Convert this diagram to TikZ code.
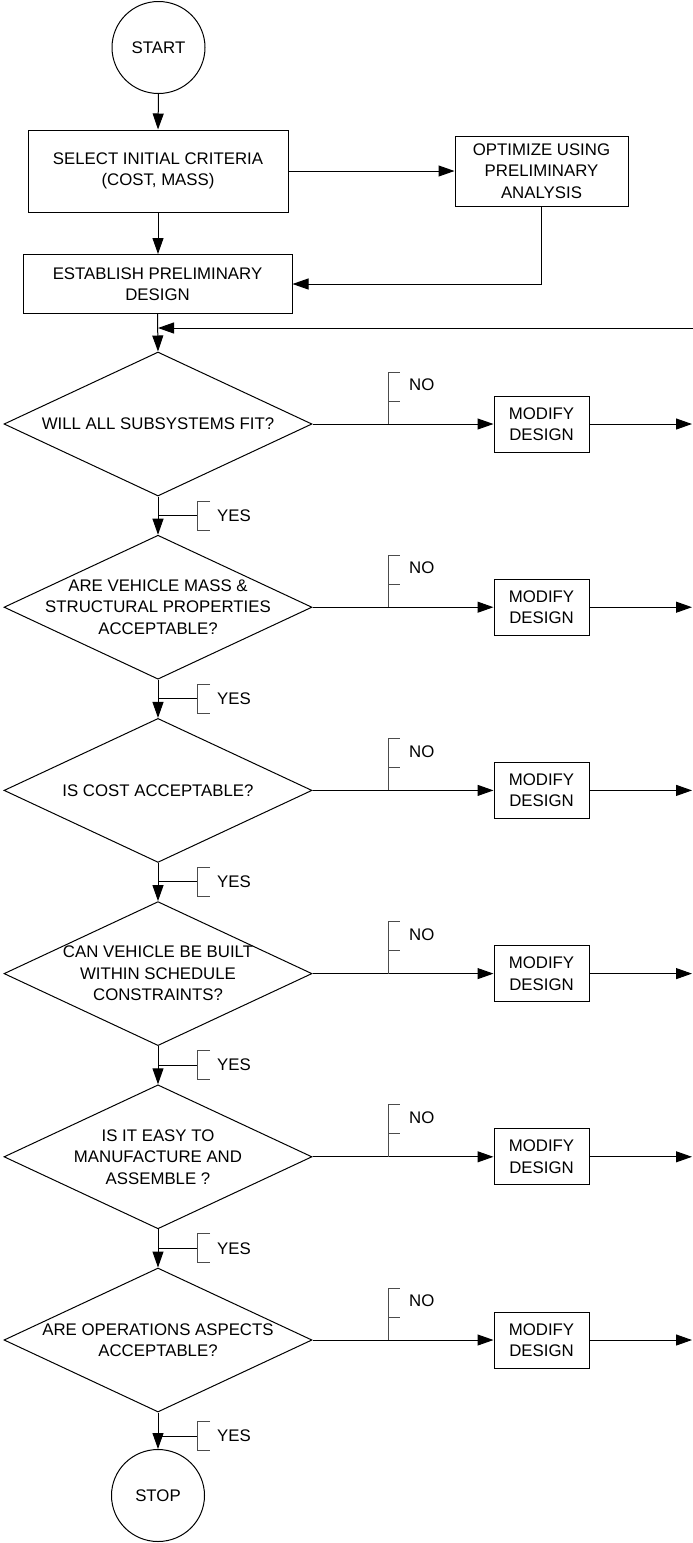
\documentclass[tikz,border=0pt]{standalone}
\usepackage{fontspec}
\setmainfont{Liberation Sans}
\usetikzlibrary{arrows.meta,shapes.geometric,calc}
\begin{document}
\begin{tikzpicture}[x=1pt,y=-1pt,
  every node/.style={font=\fontsize{16.8}{21.5}\selectfont},
  box/.style={draw,line width=1pt,rectangle,inner sep=0pt,align=center},
  term/.style={draw,line width=1pt,ellipse,minimum width=93pt,minimum height=92pt,inner sep=0pt},
  dia/.style={draw,line width=1pt,diamond,minimum width=308pt,minimum height=144pt,inner sep=0pt},
  txt/.style={align=center,inner sep=0pt},
  arr/.style={line width=1pt,-{Triangle[length=16pt,width=11pt]}},
  ln/.style={line width=1pt},
  brk/.style={line width=1pt,draw=black!70},
  lab/.style={anchor=west,inner sep=0pt}
]
\useasboundingbox (0,0) rectangle (693,1543);

\node[term] (start) at (158.5,47.5) {START};
\node[box,minimum width=260pt,minimum height=82pt] (select) at (158,171) {SELECT INITIAL CRITERIA\\(COST, MASS)};
\node[box,minimum width=173pt,minimum height=70pt] (optimize) at (541.5,171) {OPTIMIZE USING\\PRELIMINARY\\ANALYSIS};
\node[box,minimum width=269pt,minimum height=59pt] (establish) at (157.5,284) {ESTABLISH PRELIMINARY\\DESIGN};

\draw[arr] (start.south) -- (select.north);
\draw[arr] (select.east) -- (optimize.west);
\draw[arr] (select.south) -- (select.south |- establish.north);
\draw[arr] (optimize.south) |- (establish.east);

\foreach \i/\c/\t in {
  1/424/{WILL ALL SUBSYSTEMS FIT?},
  2/607.2/{ARE VEHICLE MASS \&\\STRUCTURAL PROPERTIES\\ACCEPTABLE?},
  3/790.4/{IS COST ACCEPTABLE?},
  4/973.6/{CAN VEHICLE BE BUILT\\WITHIN SCHEDULE\\CONSTRAINTS?},
  5/1156.8/{IS IT EASY TO\\MANUFACTURE AND\\ASSEMBLE ?},
  6/1340/{ARE OPERATIONS ASPECTS\\ACCEPTABLE?}}{
  \node[dia] (d\i) at (158,\c) {};
  \node[txt] (q\i) at (d\i) {\t};
  \node[box,minimum width=95pt,minimum height=56pt] (m\i) at (541.5,\c) {MODIFY\\DESIGN};
  \coordinate (no\i) at (388,\c);
  \coordinate (out\i) at (692,\c);
  \draw[arr] (d\i.east) -- (m\i.west);
  \draw[arr] (m\i.east) -- (out\i);
  \draw[brk] (no\i) -- ++(0,-52) -- ++(12,0);
  \draw[brk] ($(no\i)+(0,-23)$) -- ++(12,0);
  \node[lab] (nol\i) at (409,\c-39) {NO};
}

\node[term] (stop) at (158,1495.5) {STOP};

\coordinate (fb) at (693,328);
\draw[arr] (establish.south) -- (d1.north);
\draw[arr] (fb) -- (fb -| d1.north);

\foreach \i/\j/\y in {1/2/515.5, 2/3/698.7, 3/4/881.9, 4/5/1065.1, 5/6/1248.3}{
  \draw[arr] (d\i.south) -- (d\j.north);
  \coordinate (yes\i) at (158,\y);
}
\draw[arr] (d6.south) -- (stop.north);
\coordinate (yes6) at (158,1436);

\foreach \i in {1,...,6}{
  \draw[ln] (yes\i) -- ++(39,0) coordinate (yb\i);
  \draw[brk] ($(yb\i)+(13,-14.5)$) -- ++(-13,0) -- ++(0,29) -- ++(13,0);
  \node[lab] (yl\i) at ($(yb\i)+(20,0)$) {YES};
}
\end{tikzpicture}
\end{document}
